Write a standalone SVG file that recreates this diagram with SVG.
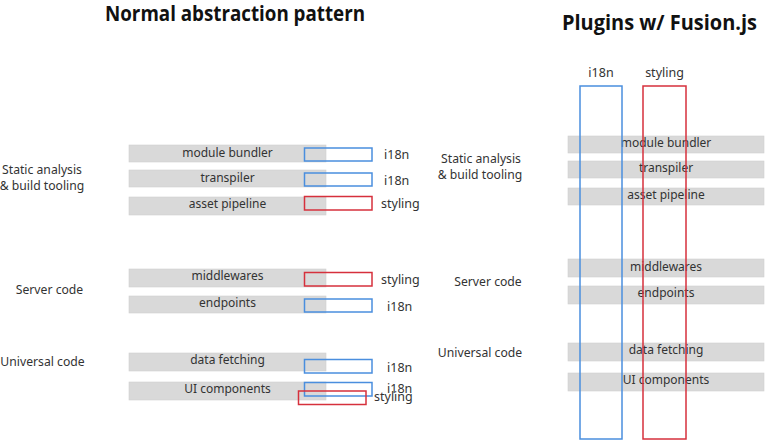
<svg xmlns="http://www.w3.org/2000/svg" width="768" height="441" viewBox="0 0 768 441">
<style>
.bg{fill:#ffffff}
.title{font-family:"Open Sans","Noto Sans",sans-serif;font-weight:bold;font-size:21px;fill:#111}
.t{font-family:"Noto Sans","Open Sans",sans-serif;font-size:12px;fill:#333}
.lab{font-family:"Noto Sans","Open Sans",sans-serif;font-size:12.5px;fill:#333}
.cat{font-family:"Noto Sans","Open Sans",sans-serif;font-size:12.2px;fill:#333}
.mid{text-anchor:middle}
.bar{fill:#d9d9d9;stroke:#cfcfcf;stroke-width:0.6}
.bl{fill:none;stroke:#4a8ede;stroke-width:1.5}
.rd{fill:none;stroke:#d6303c;stroke-width:1.5}
</style>
<rect class="bg" x="0" y="0" width="768" height="441"/>

<g id="titles">
<text class="title" x="105" y="21" textLength="260" lengthAdjust="spacingAndGlyphs">Normal abstraction pattern</text>
<text class="title" x="562" y="30" textLength="195" lengthAdjust="spacingAndGlyphs">Plugins w/ Fusion.js</text>
</g>

<g id="left-categories">
<text class="cat mid" x="42" y="173.5">Static analysis</text>
<text class="cat mid" x="42" y="189.5">&amp; build tooling</text>
<text class="cat mid" x="49.5" y="294">Server code</text>
<text class="cat mid" x="42.5" y="366">Universal code</text>
</g>

<g id="left-module-bundler">
<rect class="bar" x="129" y="145" width="197" height="17"/>
<text class="t mid" x="227.5" y="157">module bundler</text>
<rect class="bl" x="304.5" y="148" width="67.5" height="13"/>
<text class="lab" x="384" y="159">i18n</text>
</g>
<g id="left-transpiler">
<rect class="bar" x="129" y="170" width="197" height="17"/>
<text class="t mid" x="227.5" y="182">transpiler</text>
<rect class="bl" x="304.5" y="173" width="67.5" height="13"/>
<text class="lab" x="384" y="185">i18n</text>
</g>
<g id="left-asset-pipeline">
<rect class="bar" x="129" y="197" width="197" height="18"/>
<text class="t mid" x="227.5" y="208">asset pipeline</text>
<rect class="rd" x="304.5" y="196.5" width="67.5" height="13.5"/>
<text class="lab" x="381" y="208">styling</text>
</g>
<g id="left-middlewares">
<rect class="bar" x="129" y="269" width="197" height="18"/>
<text class="t mid" x="227.5" y="280">middlewares</text>
<rect class="rd" x="304.5" y="272.5" width="67.5" height="13.5"/>
<text class="lab" x="381" y="284">styling</text>
</g>
<g id="left-endpoints">
<rect class="bar" x="129" y="296" width="197" height="17"/>
<text class="t mid" x="227.5" y="307">endpoints</text>
<rect class="bl" x="304.5" y="299" width="67.5" height="13"/>
<text class="lab" x="387" y="311">i18n</text>
</g>
<g id="left-data-fetching">
<rect class="bar" x="129" y="353" width="197" height="18"/>
<text class="t mid" x="227.5" y="364">data fetching</text>
<rect class="bl" x="304.5" y="359.5" width="67.5" height="13.5"/>
<text class="lab" x="387" y="372">i18n</text>
</g>
<g id="left-ui-components">
<rect class="bar" x="129" y="382" width="197" height="18"/>
<text class="t mid" x="227.5" y="393">UI components</text>
<rect class="bl" x="304.5" y="382.5" width="67.5" height="13.5"/>
<text class="lab" x="387" y="393">i18n</text>
<rect class="rd" x="298.5" y="391" width="67.5" height="13.5"/>
<text class="lab" x="374" y="401">styling</text>
</g>

<g id="right-categories">
<text class="cat mid" x="481" y="162.5">Static analysis</text>
<text class="cat mid" x="480" y="179">&amp; build tooling</text>
<text class="cat mid" x="488" y="286">Server code</text>
<text class="cat mid" x="480" y="357">Universal code</text>
</g>

<g id="right-bars">
<g id="right-module-bundler"><rect class="bar" x="568" y="136" width="196" height="17"/><text class="t mid" x="666" y="147">module bundler</text></g>
<g id="right-transpiler"><rect class="bar" x="568" y="161" width="196" height="17"/><text class="t mid" x="666" y="172">transpiler</text></g>
<g id="right-asset-pipeline"><rect class="bar" x="568" y="188" width="196" height="17"/><text class="t mid" x="666" y="199">asset pipeline</text></g>
<g id="right-middlewares"><rect class="bar" x="568" y="259" width="196" height="18"/><text class="t mid" x="666" y="271">middlewares</text></g>
<g id="right-endpoints"><rect class="bar" x="568" y="286" width="196" height="18"/><text class="t mid" x="666" y="297">endpoints</text></g>
<g id="right-data-fetching"><rect class="bar" x="568" y="343" width="196" height="18"/><text class="t mid" x="666" y="354">data fetching</text></g>
<g id="right-ui-components"><rect class="bar" x="568" y="373" width="196" height="18"/><text class="t mid" x="666" y="384">UI components</text></g>
</g>

<g id="right-i18n-plugin">
<rect class="bl" x="580" y="86" width="42" height="353"/>
<text class="lab mid" x="601" y="77">i18n</text>
</g>
<g id="right-styling-plugin">
<rect class="rd" x="643" y="86" width="43" height="353"/>
<text class="lab mid" x="664.5" y="77">styling</text>
</g>

<g id="connectors"></g>
</svg>
